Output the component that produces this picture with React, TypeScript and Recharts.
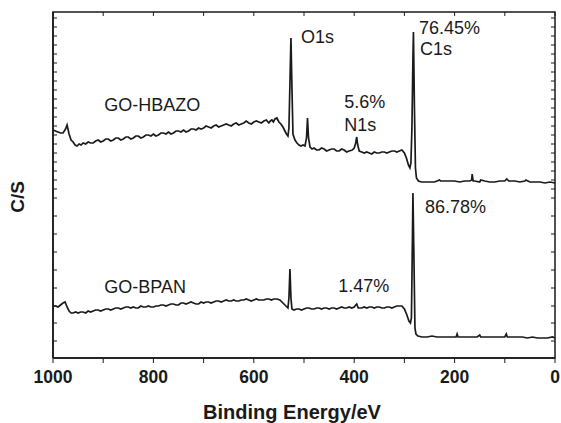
import React from 'react';
import { LineChart, Line, XAxis, YAxis, ReferenceDot, ReferenceLine } from 'recharts';

const FONT = '"Liberation Sans", Arial, Helvetica, sans-serif';
const INK = '#1a1a1a';

// Binding energy (eV) vs intensity (arbitrary C/S units)
const hbazoSpectrum: [number, number][] = [
  [1000, 228], [995, 227], [990, 226], [985, 225], [980, 225], [975, 229], [972, 233], [968, 224],
  [964, 218], [960, 216], [956, 213], [952, 212], [948, 214], [944, 213], [940, 215], [935, 214],
  [930, 216], [925, 215], [920, 215], [915, 217], [910, 218], [905, 216], [900, 217], [895, 219],
  [890, 219], [885, 217], [880, 218], [875, 220], [870, 220], [865, 218], [860, 219], [855, 221],
  [850, 221], [845, 219], [840, 220], [835, 222], [830, 222], [825, 220], [820, 221], [815, 223],
  [810, 223], [805, 222], [800, 224], [795, 222], [790, 223], [785, 225], [780, 225], [775, 224],
  [770, 226], [765, 224], [760, 225], [755, 227], [750, 227], [745, 226], [740, 228], [735, 226],
  [730, 227], [725, 229], [720, 229], [715, 228], [710, 230], [705, 229], [700, 230], [695, 232],
  [690, 231], [685, 230], [680, 232], [675, 233], [670, 231], [665, 232], [660, 233], [655, 234],
  [650, 233], [645, 232], [640, 234], [635, 235], [630, 233], [625, 234], [620, 235], [615, 237],
  [610, 235], [605, 234], [600, 236], [595, 237], [590, 236], [585, 235], [580, 237], [575, 238],
  [570, 235], [567, 237], [564, 238], [561, 236], [558, 239], [554, 240], [550, 236], [546, 234],
  [542, 231], [538, 227], [535, 224], [532, 222], [530, 230], [528, 275], [526, 320], [524, 270],
  [522, 224], [518, 218], [514, 215], [510, 213], [506, 212], [502, 213], [498, 212], [495, 220],
  [493, 240], [491, 220], [488, 211], [484, 209], [480, 210], [475, 208], [470, 208], [465, 210],
  [460, 209], [455, 207], [450, 208], [445, 209], [440, 209], [435, 207], [430, 207], [425, 209],
  [420, 208], [415, 206], [410, 207], [404, 208], [400, 210], [397, 215], [395, 221], [393, 213],
  [390, 207], [385, 206], [380, 205], [375, 206], [370, 205], [365, 204], [360, 206], [355, 205],
  [350, 205], [345, 206], [340, 206], [335, 205], [330, 206], [325, 207], [320, 207], [315, 206],
  [310, 207], [305, 208], [300, 205], [296, 200], [292, 193], [289, 190], [287, 195], [285, 230],
  [283, 300], [282, 326], [280, 250], [278, 190], [276, 180], [272, 177], [266, 176], [260, 176],
  [250, 176], [240, 176], [230, 178], [228, 177], [220, 177], [210, 177], [200, 177], [190, 176],
  [180, 177], [170, 177], [166, 178], [165, 184], [163, 177], [160, 177], [150, 176], [148, 178],
  [140, 177], [130, 176], [120, 176], [110, 177], [100, 177], [96, 179], [92, 177], [80, 177],
  [70, 176], [60, 177], [58, 178], [50, 176], [40, 176], [30, 176], [20, 175], [10, 176], [0, 175],
];

const bpanSpectrum: [number, number][] = [
  [1000, 52], [995, 52], [990, 51], [985, 53], [980, 55], [976, 56], [972, 51], [968, 47],
  [964, 45], [960, 45], [955, 46], [950, 45], [945, 46], [940, 46], [935, 45], [930, 47],
  [925, 46], [920, 47], [915, 48], [910, 48], [905, 47], [900, 48], [895, 49], [890, 49],
  [885, 48], [880, 49], [875, 50], [870, 50], [865, 49], [860, 50], [855, 51], [850, 51],
  [845, 50], [840, 51], [835, 50], [830, 50], [825, 52], [820, 51], [815, 51], [810, 52],
  [805, 51], [800, 51], [795, 52], [790, 52], [785, 53], [780, 53], [775, 52], [770, 53],
  [765, 54], [760, 54], [755, 53], [750, 53], [745, 55], [740, 55], [735, 54], [730, 55],
  [725, 56], [720, 55], [715, 54], [710, 54], [705, 56], [700, 55], [695, 56], [690, 56],
  [685, 55], [680, 56], [675, 57], [670, 57], [665, 56], [660, 57], [655, 58], [650, 57],
  [645, 57], [640, 58], [635, 57], [630, 57], [625, 58], [620, 58], [615, 59], [610, 58],
  [605, 57], [600, 58], [595, 59], [590, 58], [585, 58], [580, 58], [575, 59], [570, 59],
  [565, 58], [560, 59], [554, 59], [548, 58], [542, 55], [536, 52], [532, 50], [530, 60],
  [528, 89], [526, 60], [524, 49], [520, 48], [515, 49], [510, 49], [505, 48], [500, 49],
  [495, 50], [490, 50], [485, 49], [480, 49], [475, 50], [470, 50], [465, 49], [460, 50],
  [455, 50], [450, 49], [445, 50], [440, 50], [435, 49], [430, 50], [425, 51], [420, 50],
  [415, 50], [410, 51], [405, 50], [400, 51], [397, 53], [395, 54], [392, 50], [388, 50],
  [385, 50], [380, 51], [375, 50], [370, 51], [365, 51], [360, 50], [355, 51], [350, 51],
  [345, 50], [340, 50], [335, 51], [330, 51], [325, 50], [320, 51], [315, 52], [310, 52],
  [305, 52], [300, 49], [295, 43], [291, 37], [288, 35], [286, 40], [284, 120], [283, 165],
  [281, 100], [279, 30], [277, 24], [273, 22], [265, 21], [255, 21], [245, 22], [235, 21],
  [225, 21], [215, 21], [205, 21], [197, 21], [195, 24], [193, 21], [185, 21], [175, 21],
  [165, 21], [155, 21], [150, 23], [148, 21], [140, 21], [130, 21], [120, 21], [110, 21],
  [100, 21], [97, 24], [95, 21], [85, 21], [75, 21], [65, 21], [55, 20], [45, 21],
  [35, 20], [25, 20], [15, 20], [5, 21], [0, 20],
];

const X_MIN = 0;
const X_MAX = 1000;
const Y_MAX = 346;
const xTicks = [0, 100, 200, 300, 400, 500, 600, 700, 800, 900, 1000];
const yTicks = [
  17, 35, 52, 70, 88, 106, 124, 142, 160, 169, 178, 187, 196, 205, 214, 223, 232, 241, 250, 259,
  268, 277, 286, 295, 304, 313, 322, 331, 340,
];

// annotations: [binding energy, intensity, text]
const annotations: [number, number, string][] = [
  [506, 315, 'O1s'],
  [271, 324, '76.45%'],
  [269, 303, 'C1s'],
  [420, 250, '5.6%'],
  [420, 227, 'N1s'],
  [898, 247, 'GO-HBAZO'],
  [259, 145, '86.78%'],
  [898, 65, 'GO-BPAN'],
  [432, 66, '1.47%'],
];

const toRows = (arr: [number, number][]) => arr.map(([e, c]) => ({ e, c }));
const hbazoData = toRows(hbazoSpectrum);
const bpanData = toRows(bpanSpectrum);

// plot frame drawn as a closed polyline through the domain corners
const frameData = toRows([
  [X_MAX, 0],
  [X_MIN, 0],
  [X_MIN, Y_MAX],
  [X_MAX, Y_MAX],
  [X_MAX, 0],
]);

const BottomTick = (props: any) => {
  const { x, y, payload } = props;
  const v = payload.value;
  if (v % 200 !== 0) return <g />;
  return (
    <text x={x} y={y} dy={18} textAnchor="middle" fontSize={17.5} fontWeight="bold" fill={INK} fontFamily={FONT}>
      {v}
    </text>
  );
};
const LeftTick = (props: any) => {
  const { x, y } = props;
  return <line x1={x} x2={x + 4} y1={y} y2={y} stroke={INK} strokeWidth={1} />;
};

const Anno = (props: any) => {
  const { viewBox, text } = props;
  const cx = viewBox.x + viewBox.width / 2;
  const cy = viewBox.y + viewBox.height / 2;
  return (
    <text x={cx} y={cy} fontSize={18} fill={INK} fontFamily={FONT}>
      {text}
    </text>
  );
};

const XTitle = (props: any) => {
  const { viewBox } = props;
  return (
    <text
      x={viewBox.x + viewBox.width / 2 - 12}
      y={viewBox.y + 61}
      textAnchor="middle"
      fontSize={20}
      fontWeight="bold"
      fill={INK}
      fontFamily={FONT}
    >
      Binding Energy/eV
    </text>
  );
};
const YTitle = (props: any) => {
  const { viewBox } = props;
  const cx = viewBox.x + 17;
  const cy = viewBox.y + viewBox.height / 2 + 12;
  return (
    <text
      x={cx}
      y={cy}
      transform={`rotate(-90 ${cx} ${cy})`}
      textAnchor="middle"
      dominantBaseline="central"
      fontSize={19}
      fontWeight="bold"
      fill={INK}
      fontFamily={FONT}
    >
      C/S
    </text>
  );
};

export default function App() {
  return (
    <div style={{ position: 'absolute', left: 0, top: 0, background: '#fff' }}>
      <LineChart width={561} height={423} margin={{ top: 12, right: 6, bottom: 0, left: 0 }}>
        <XAxis
          dataKey="e"
          type="number"
          domain={[X_MIN, X_MAX]}
          reversed
          ticks={xTicks}
          interval={0}
          height={65}
          axisLine={{ stroke: INK, strokeWidth: 1.5 }}
          tickLine={{ stroke: INK, strokeWidth: 1 }}
          tickSize={5}
          tickMargin={2}
          tick={<BottomTick />}
          label={<XTitle />}
        />
        <YAxis
          type="number"
          domain={[0, Y_MAX]}
          ticks={yTicks}
          interval={0}
          width={53}
          axisLine={{ stroke: INK, strokeWidth: 1.5 }}
          tickLine={false}
          tickSize={0}
          tickMargin={0}
          tick={<LeftTick />}
          label={<YTitle />}
        />
        {xTicks.map((t) => (
          <ReferenceLine
            key={`tt${t}`}
            segment={[
              { x: t, y: Y_MAX },
              { x: t, y: Y_MAX - 4 },
            ]}
            stroke={INK}
            strokeWidth={1}
          />
        ))}
        {yTicks.map((t) => (
          <ReferenceLine
            key={`rt${t}`}
            segment={[
              { x: X_MIN, y: t },
              { x: X_MIN + 8, y: t },
            ]}
            stroke={INK}
            strokeWidth={1}
          />
        ))}
        <Line
          data={frameData}
          dataKey="c"
          type="linear"
          stroke={INK}
          strokeWidth={1.5}
          dot={false}
          activeDot={false}
          legendType="none"
          isAnimationActive={false}
        />
        <Line
          data={hbazoData}
          dataKey="c"
          type="linear"
          stroke={INK}
          strokeWidth={1.7}
          dot={false}
          isAnimationActive={false}
        />
        <Line
          data={bpanData}
          dataKey="c"
          type="linear"
          stroke={INK}
          strokeWidth={1.7}
          dot={false}
          isAnimationActive={false}
        />
        {annotations.map(([e, c, t]) => (
          <ReferenceDot
            key={t}
            x={e}
            y={c}
            r={1}
            fill="none"
            stroke="none"
            label={<Anno text={t} />}
          />
        ))}
      </LineChart>
    </div>
  );
}
